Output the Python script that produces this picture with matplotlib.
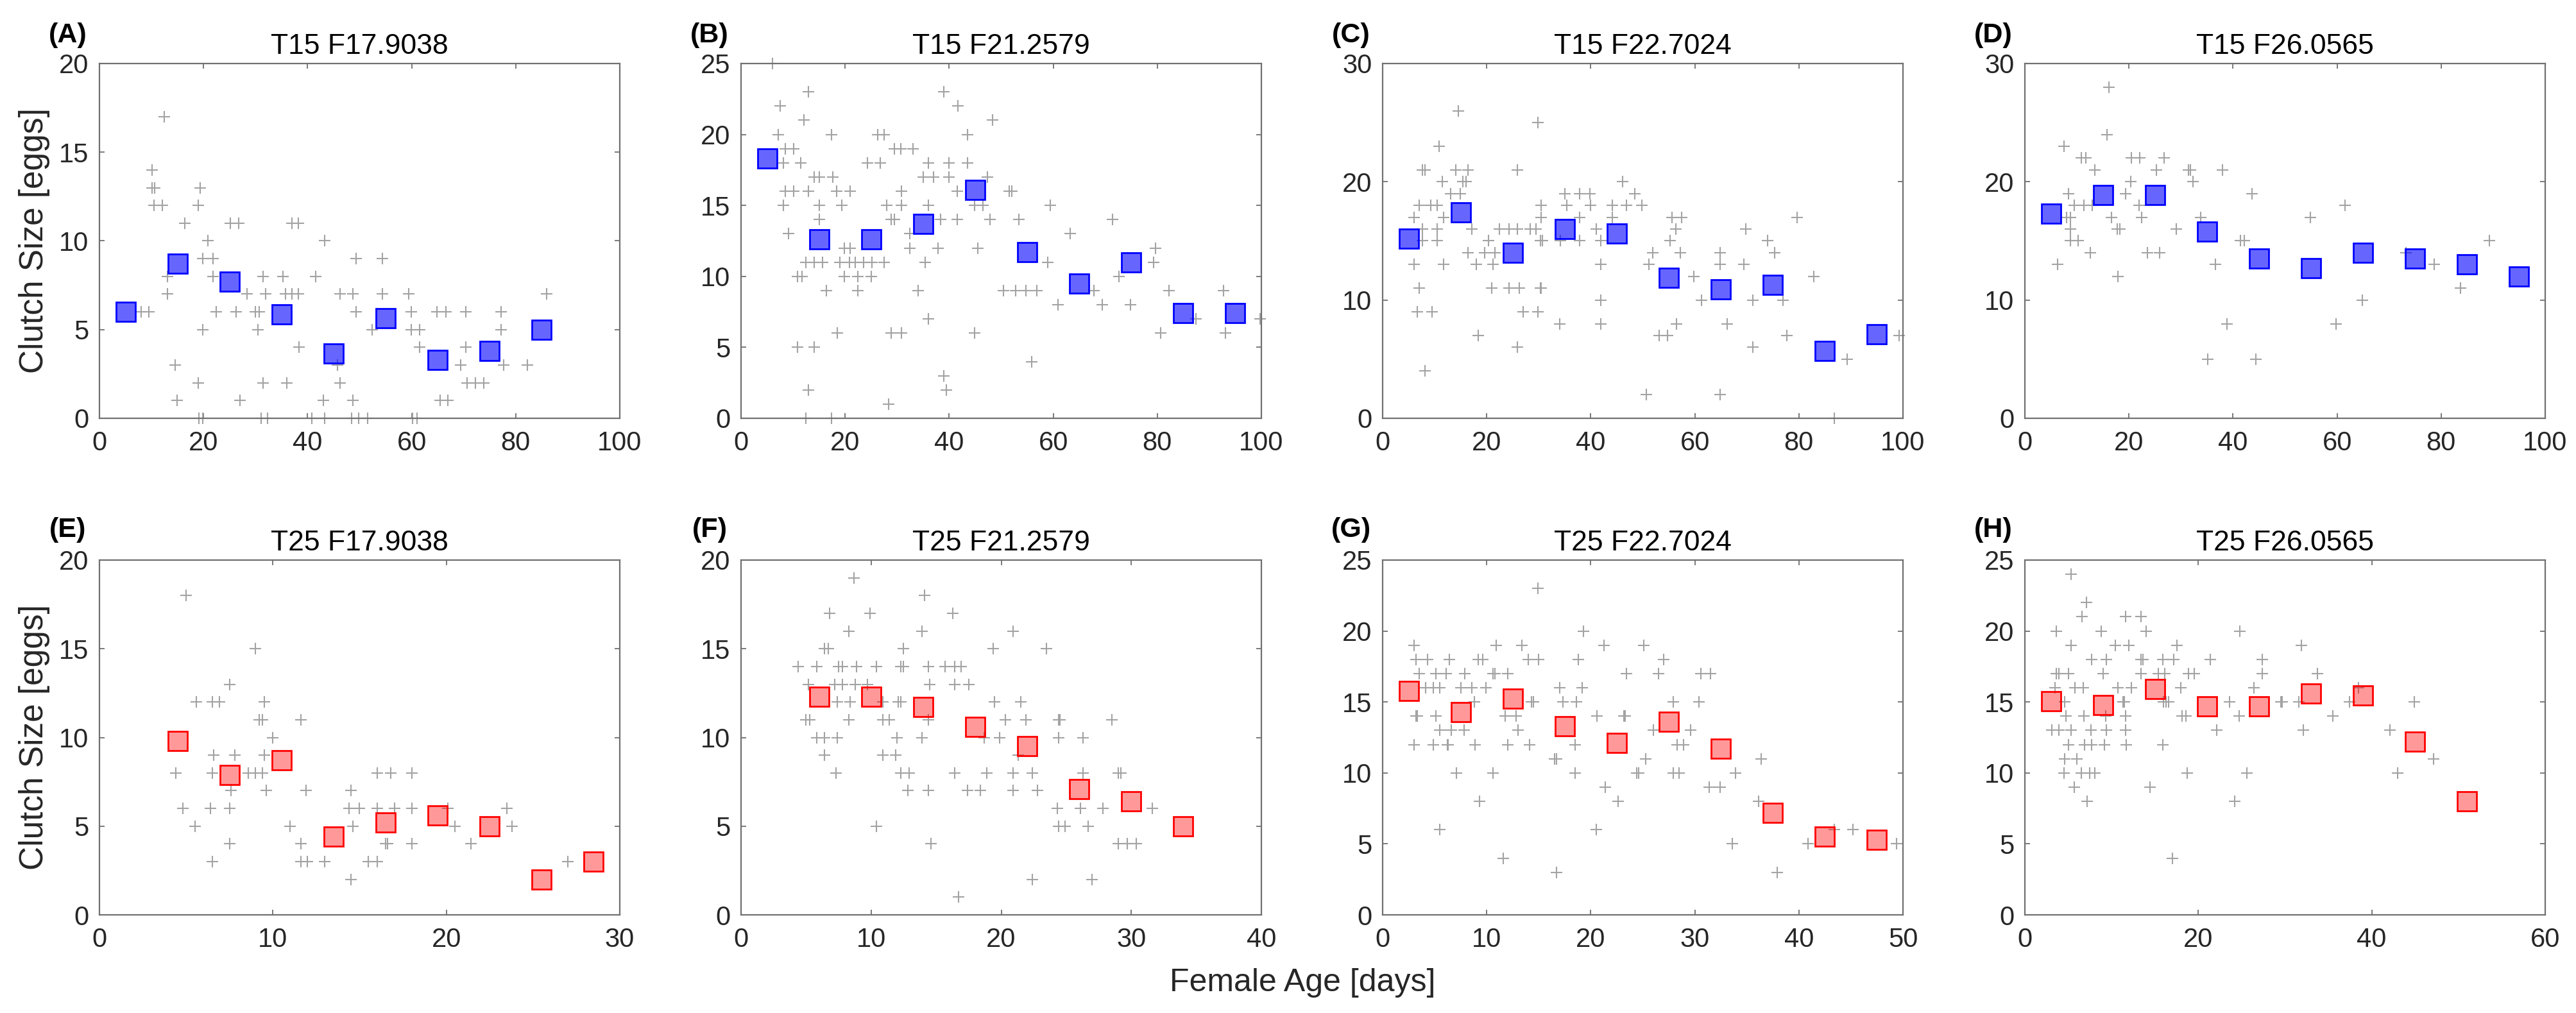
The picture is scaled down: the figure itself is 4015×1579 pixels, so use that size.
import numpy as np
import matplotlib
matplotlib.use("Agg")
import matplotlib.pyplot as plt

plt.rcParams['font.family'] = ['Liberation Sans', 'DejaVu Sans']

# ---------------- data ----------------
letters = ['(A)', '(B)', '(C)', '(D)', '(E)', '(F)', '(G)', '(H)']
titles = ['T15 F17.9038', 'T15 F21.2579', 'T15 F22.7024', 'T15 F26.0565',
          'T25 F17.9038', 'T25 F21.2579', 'T25 F22.7024', 'T25 F26.0565']
xmax = [100, 100, 100, 100, 30, 40, 50, 60]
xstep = [20, 20, 20, 20, 10, 10, 10, 20]
ymax = [20, 25, 30, 30, 20, 20, 25, 25]
ystep = [5, 5, 10, 10, 5, 5, 5, 5]

A_pts = [(12.5,17),(10.1,14),(10.1,13),(10.6,13),(10.5,12),(12.1,12),(19.4,13),(19,12),(16.4,11),(20.9,10),
         (19.8,9),(21.8,9),(13.1,8),(21.8,8),(13.1,7),(8.0,6),(9.5,6),(19.8,5),(14.6,3),(14.9,1),(19,2),
         (19.1,0),(19.8,0),(25.1,11),(26.7,11),(22.5,6),(26.3,6),(28.4,7),(27,1),(30,6),(30.7,6),(31.5,8),
         (31.9,7),(30.4,5),(31.5,2),(31.1,0),(32.3,0),(35.3,8),(35.8,7),(37,7),(38.2,7),(37,11),(38.2,11),
         (38.3,4),(36,2),(41.5,8),(43.3,10),(40.8,0),(43.3,0),(43,1),(45.8,3),(46.3,2),(46.3,7),(48.7,7),
         (49.3,9),(49.3,6),(48.7,1),(48.5,0),(49.8,0),(51.5,0),(54.4,9),(54.4,7),(52.4,5),(59.4,7),(59.9,6),
         (59.9,5),(61.5,5),(61.5,4),(60.2,0),(61.0,0),(64.9,6),(66.6,6),(65.5,1),(67,1),(69.4,3),(70.4,6),
         (70.4,4),(70.6,2),(72.2,2),(73.8,2),(77.2,6),(77.2,5),(77.7,3),(82.2,3),(86,7)]
B_pts = [(6,25),(7.5,22),(13,23),(12.1,21),(7.1,20),(8.5,19),(10.1,19),(8.1,18),(11.5,18),(8.1,15),(8.5,16),
         (10.1,16),(13,16),(9.1,13),(14.1,17),(15,17),(17.6,17),(15,15),(15,14),(17.4,20),(18.4,16),(21,16),
         (19.4,15),(10.8,10),(11.7,10),(12.5,11),(14.1,11),(15.7,11),(16.4,9),(10.9,5),(14.1,5),(13,2),
         (12.5,0),(17.4,0),(18.5,6),(19,11),(20.8,11),(22,11),(23.6,11),(25.1,11),(27.5,11),(19.8,12),(21,12),
         (19.8,10),(22.4,10),(25,10),(22.4,9),(24.3,18),(26.7,18),(26.3,20),(27.5,20),(29.5,19),(30.7,19),
         (33,19),(30.8,16),(28,15),(30.8,15),(28.9,14),(29.5,14),(32.4,12),(32.4,13),(28.3,1),(28.9,6),(30.8,6),
         (34,9),(35.4,11),(36,18),(35,17),(37,17),(36,15),(38.3,14),(37.9,12),(36,7),(39,23),(41.7,22),
         (43.5,20),(40,18),(43.5,18),(40,17),(41.5,16),(41.5,14),(39,3),(39.4,2),(48.3,21),(47.3,17),(44.9,15),
         (46.5,15),(47.9,14),(45.5,12),(44.9,6),(51.5,16),(52,16),(53.4,14),(50.4,9),(52.8,9),(54.8,9),
         (56.9,9),(55.8,4),(59.4,15),(59,11),(60.9,8),(63.3,13),(67.8,9),(69.4,8),(71.4,14),(72.6,10),
         (74.8,8),(79.7,12),(79.3,11),(82.2,9),(80.7,6),(87.4,7),(92.7,9),(93.1,6),(99.7,7)]
C_pts = [(14.6,26),(29.9,25),(10.9,23),(7.7,21),(8.1,21),(14.1,21),(16.4,21),(25.9,21),(11.5,20),(15.4,20),
         (16,20),(13.1,19),(14.9,19),(7,18),(9.3,18),(10.5,18),(6,17),(11.7,17),(7.7,16),(10.5,16),(7.7,15),
         (10.5,15),(6,13),(11.7,13),(7,11),(6.6,9),(9.5,9),(8.1,4),(17.1,16),(16.4,14),(18,13),(18.4,7),
         (20.4,15),(19.6,14),(21.6,14),(21.2,13),(21,11),(22.4,16),(24.3,16),(25.9,16),(28.3,16),(29.5,16),
         (24.3,11),(26.3,11),(27,9),(25.9,6),(30.5,18),(30.5,17),(30.3,15),(30.7,15),(30.3,11),(30.5,11),
         (29.9,9),(34,8),(35,19),(35.4,18),(37.8,17),(34.2,15),(37.8,15),(37.9,19),(39.8,19),(40,18),(41.1,16),
         (41.9,15),(41.9,13),(41.9,10),(41.9,8),(44.1,18),(46.9,18),(46.1,20),(48.5,19),(49.8,18),(44.1,17),
         (51.9,14),(51.2,13),(50.7,2),(55.6,17),(57.5,17),(56.4,16),(55.2,15),(57.2,14),(53.2,7),(54.8,7),
         (56.5,8),(59.8,12),(61.3,10),(64.9,14),(64.9,13),(66.2,8),(64.9,2),(69.8,16),(69.4,13),(71.2,10),
         (71.2,6),(74,15),(75.3,14),(76.9,10),(77.7,7),(79.7,17),(82.8,12),(89.3,5),(86.8,0),(99.3,7)]
D_pts = [(16.1,28),(15.8,24),(7.5,23),(10.9,22),(11.7,22),(13.4,21),(20.5,22),(22.1,22),(26.8,22),(25.3,21),
         (31.4,21),(31.8,21),(38,21),(20.4,20),(32.3,20),(8.4,19),(19.3,19),(43.6,19),(9.5,18),(11.3,18),
         (12.9,18),(21.9,18),(61.5,18),(8.0,17),(8.8,17),(16.7,17),(22.4,17),(33.8,17),(54.9,17),(8.7,16),
         (17.7,16),(18.3,16),(29.1,16),(8.8,15),(10.2,15),(41.4,15),(42.2,15),(89.3,15),(12.6,14),(23.5,14),
         (25.9,14),(73.2,14),(6.3,13),(36.6,13),(78.7,13),(17.9,12),(64.8,10),(83.7,11),(38.8,8),(59.8,8),
         (35.2,5),(44.4,5)]
E_pts = [(5,18),(9,15),(7.5,13),(5.6,12),(6.5,12),(6.9,12),(9.5,12),(9.2,11),(9.4,11),(11.6,11),(10,10),
         (6.6,9),(7.8,9),(9.5,9),(4.4,8),(6.5,8),(8.6,8),(9.0,8),(9.4,8),(7.6,7),(9.6,7),(11.9,7),(4.8,6),
         (6.4,6),(7.5,6),(5.5,5),(7.5,4),(6.5,3),(11,5),(11.6,4),(11.6,3),(12,3),(13,3),(14.5,7),(14.4,6),
         (15,6),(14.6,5),(14.5,2),(15.5,3),(16,3),(16,8),(16.8,8),(16,6),(17,6),(16.5,4),(16.6,4),(18,8),
         (18,6),(18,4),(20.1,6),(20.5,5),(21.4,4),(23.5,6),(23.8,5),(27,3)]
F_pts = [(8.7,19),(14.1,18),(6.8,17),(9.9,17),(16.3,17),(8.3,16),(13.9,16),(20.9,16),(6.4,15),(6.7,15),
         (12.5,15),(19.4,15),(23.5,15),(4.4,14),(5.8,14),(7.5,14),(7.8,14),(8.9,14),(10.4,14),(12.3,14),
         (12.5,14),(14.4,14),(15.7,14),(16.4,14),(16.9,14),(5.2,13),(7.2,13),(7.8,13),(8.8,13),(9.7,13),
         (14.5,13),(16.4,13),(17.5,13),(7.4,12),(8.4,12),(10.9,12),(12.1,12),(12.3,12),(19.5,12),(21.5,12),
         (5,11),(5.3,11),(8.3,11),(10.9,11),(11.4,11),(14.4,11),(20.3,11),(21.9,11),(24.4,11),(24.5,11),
         (28.5,11),(5.8,10),(6.4,10),(7.4,10),(12,10),(13.9,10),(18.7,10),(19.9,10),(24.4,10),(26.3,10),
         (6.4,9),(10.9,9),(11.9,9),(21.3,9),(7.3,8),(12.3,8),(12.9,8),(16.4,8),(18.9,8),(20.9,8),(22.4,8),
         (26.3,8),(29,8),(29.2,8),(12.8,7),(14.4,7),(17.4,7),(18.4,7),(20.9,7),(22.8,7),(24.3,6),(26.1,6),
         (27.8,6),(31.6,6),(24.4,5),(24.9,5),(26.7,5),(10.4,5),(14.6,4),(29,4),(29.7,4),(30.4,4),(22.4,2),
         (27,2),(16.7,1)]
G_pts = [(14.9,23),(19.3,20),(3,19),(10.9,19),(13.4,19),(21.3,19),(25.1,19),(3.2,18),(4.3,18),(6.4,18),
         (9.2,18),(9.6,18),(14,18),(15,18),(18.8,18),(27,18),(3.5,17),(5.1,17),(6.1,17),(7.9,17),(10.6,17),
         (10.8,17),(12,17),(23.4,17),(26.5,17),(30.6,17),(31.5,17),(4.1,16),(4.9,16),(5.5,16),(7.5,16),
         (8.6,16),(9.9,16),(17,16),(19.2,16),(8.8,15),(14.3,15),(14.5,15),(17.3,15),(18.6,15),(27.9,15),
         (30.4,15),(3.2,14),(3.3,14),(5.1,14),(11.8,14),(12.8,14),(20.6,14),(23.2,14),(23.3,14),(5.5,13),
         (6.6,13),(7.8,13),(13,13),(26,13),(29.6,13),(3,12),(4.9,12),(6.2,12),(6.3,12),(8.9,12),(12,12),
         (14.1,12),(18.5,12),(28.3,12),(28.9,12),(16.5,11),(16.7,11),(25.3,11),(36.4,11),(7.1,10),(10.6,10),
         (18.5,10),(24.4,10),(24.6,10),(27.9,10),(28.5,10),(33.9,10),(21.4,9),(31.4,9),(32.4,9),(9.3,8),
         (22.6,8),(36.1,8),(5.5,6),(20.5,6),(43.4,6),(45.2,6),(33.6,5),(40.9,5),(49.4,5),(11.6,4),(16.7,3),
         (37.9,3)]
H_pts = [(5.3,24),(7.1,22),(6.6,21),(11.6,21),(13.4,21),(3.6,20),(8.8,20),(14,20),(24.8,20),(5.3,19),
         (10.4,19),(12,19),(17.5,19),(31.9,19),(7.7,18),(9.4,18),(13.4,18),(13.6,18),(15.9,18),(17.2,18),
         (21.4,18),(27.4,18),(3.6,17),(3.9,17),(5,17),(9,17),(13.4,17),(15.4,17),(16.1,17),(18.9,17),
         (19.5,17),(27.4,17),(33.7,17),(3.5,16),(5.8,16),(6.7,16),(10.7,16),(12.3,16),(18,16),(26.4,16),
         (38.5,16),(4.6,15),(11.3,15),(11.5,15),(16,15),(16.3,15),(16.6,15),(23.6,15),(29.5,15),(29.7,15),
         (31.6,15),(37.4,15),(44.9,15),(4.7,14),(6.8,14),(9.3,14),(11.6,14),(18.1,14),(18.6,14),(24.7,14),
         (35.5,14),(3.1,13),(3.9,13),(5.3,13),(7.6,13),(9.4,13),(11.6,13),(22.1,13),(32.1,13),(42.1,13),
         (5,12),(6.9,12),(7.7,12),(9.2,12),(11.7,12),(15.9,12),(4.6,11),(6,11),(47.1,11),(4.5,10),(6.5,10),
         (7.5,10),(8.1,10),(18.7,10),(25.6,10),(43,10),(5.7,9),(14.4,9),(7.2,8),(24.2,8),(17,4)]

A_mean_age = [5, 15, 25, 35, 45, 55, 65, 75, 85]
A_mean_clutch = [6.0, 8.7, 7.7, 5.85, 3.65, 5.65, 3.3, 3.8, 5.0]
B_mean_age = [5, 15, 25, 35, 45, 55, 65, 75, 85, 95]
B_mean_clutch = [18.3, 12.6, 12.6, 13.7, 16.1, 11.7, 9.5, 11.0, 7.4, 7.4]
C_mean_age = [5, 15, 25, 35, 45, 55, 65, 75, 85, 95]
C_mean_clutch = [15.2, 17.4, 14.0, 16.0, 15.6, 11.9, 10.9, 11.3, 5.7, 7.1]
D_mean_age = [5, 15, 25, 35, 45, 55, 65, 75, 85, 95]
D_mean_clutch = [17.3, 18.9, 18.9, 15.8, 13.5, 12.7, 14.0, 13.5, 13.0, 12.0]
E_mean_age = [4.5, 7.5, 10.5, 13.5, 16.5, 19.5, 22.5, 25.5, 28.5]
E_mean_clutch = [9.8, 7.9, 8.7, 4.4, 5.2, 5.6, 5.0, 2.0, 3.0]
F_mean_age = [6, 10, 14, 18, 22, 26, 30, 34]
F_mean_clutch = [12.3, 12.3, 11.7, 10.6, 9.5, 7.1, 6.4, 5.0]
G_mean_age = [2.5, 7.5, 12.5, 17.5, 22.5, 27.5, 32.5, 37.5, 42.5, 47.5]
G_mean_clutch = [15.8, 14.3, 15.25, 13.3, 12.1, 13.6, 11.7, 7.2, 5.5, 5.3]
H_mean_age = [3, 9, 15, 21, 27, 33, 39, 45, 51]
H_mean_clutch = [15.05, 14.8, 15.9, 14.7, 14.7, 15.6, 15.45, 12.2, 8.0]

points = [A_pts, B_pts, C_pts, D_pts, E_pts, F_pts, G_pts, H_pts]
mean_age = [A_mean_age, B_mean_age, C_mean_age, D_mean_age, E_mean_age, F_mean_age, G_mean_age, H_mean_age]
mean_clutch = [A_mean_clutch, B_mean_clutch, C_mean_clutch, D_mean_clutch,
               E_mean_clutch, F_mean_clutch, G_mean_clutch, H_mean_clutch]

# ---------------- figure ----------------
W, H = 4016, 1579
fig = plt.figure(figsize=(W / 100, H / 100), dpi=100)

ax_w = 811 / W
ax_h = 553 / H
lefts_px = [155, 1155, 2155, 3156]
tops_px = [99, 873]
letter_y_px = [55, 826]

tick_col = '#262626'
spine_col = '#707070'

for i in range(8):
    r, c = divmod(i, 4)
    left = lefts_px[c] / W
    bottom = 1 - (tops_px[r] + 553) / H
    ax = fig.add_axes([left, bottom, ax_w, ax_h])
    pts = np.array(points[i])
    ax.plot(pts[:, 0], pts[:, 1], linestyle='none', marker='+', markersize=13,
            markeredgewidth=1.5, color='#a3a3a3', clip_on=False, zorder=2)
    if r == 0:
        fc, ec = (0, 0, 1, 0.6), (0, 0, 1, 1)
    else:
        fc, ec = (1, 0, 0, 0.4), (1, 0, 0, 1)
    ax.plot(mean_age[i], mean_clutch[i], linestyle='none', marker='s', markersize=22,
            markerfacecolor=fc, markeredgecolor=ec, markeredgewidth=2, clip_on=False, zorder=3)
    ax.set_xlim(0, xmax[i])
    ax.set_ylim(0, ymax[i])
    ax.set_xticks(np.arange(0, xmax[i] + 0.1, xstep[i]))
    ax.set_yticks(np.arange(0, ymax[i] + 0.1, ystep[i]))
    ax.tick_params(direction='in', length=6, width=1.3, colors=spine_col,
                   labelcolor=tick_col, labelsize=30, top=True, right=True)
    ax.tick_params(axis='x', pad=14)
    ax.tick_params(axis='y', pad=12)
    for s in ax.spines.values():
        s.set_color(spine_col)
        s.set_linewidth(1.6)
    ax.set_title(titles[i], fontsize=32, pad=11, color='black')
    if c == 0:
        ax.set_ylabel('Clutch Size [eggs]', fontsize=37, color=tick_col, labelpad=10)
    fig.text((lefts_px[c] - 49) / W, 1 - letter_y_px[r] / H, letters[i], fontsize=31,
             fontweight='bold', ha='center', va='center')

fig.text(2030 / W, 1 - 1532 / H, 'Female Age [days]', fontsize=36, color=tick_col,
         ha='center', va='center')

fig.savefig('out.png', dpi=100)
